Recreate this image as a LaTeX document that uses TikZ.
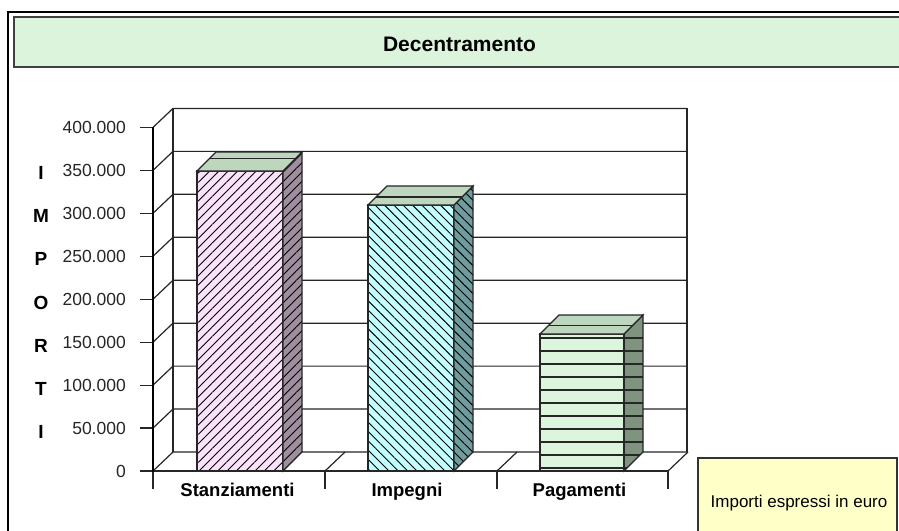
\documentclass[tikz,border=0pt]{standalone}
\usepackage{fontspec}
\setmainfont{Liberation Sans}
\usetikzlibrary{patterns.meta}
\definecolor{titlegreen}{HTML}{DCF4DC}
\definecolor{notebg}{HTML}{FFFFC8}
\definecolor{topgreen}{HTML}{BDD6BD}
\definecolor{sfront}{HTML}{FAE3FA}
\definecolor{sside}{HTML}{9E8E9E}
\definecolor{ifront}{HTML}{C4FFFF}
\definecolor{iside}{HTML}{6F9C9C}
\definecolor{pfront}{HTML}{DDF5DD}
\definecolor{pside}{HTML}{7E947E}
\newcommand\mybar[7]{%
  \path[fill=#4] (#1,471) rectangle (#2,#3);
  \path[pattern={#6}, pattern color=black] (#1,471) rectangle (#2,#3);
  \draw[barline] (#1,471) rectangle (#2,#3);
  \path[fill=#5] (#2,471) -- ({#2+19},452) -- ({#2+19},{#3-19}) -- (#2,#3) -- cycle;
  \path[pattern={#6}, pattern color=black] (#2,471) -- ({#2+19},452) -- ({#2+19},{#3-19}) -- (#2,#3) -- cycle;
  \draw[barline] (#2,471) -- ({#2+19},452) -- ({#2+19},{#3-19}) -- (#2,#3) -- cycle;
  \draw[barline, fill=topgreen] (#1,#3) -- ({#1+19},{#3-19}) -- ({#2+19},{#3-19}) -- (#2,#3) -- cycle;
  \draw[barline] ({#1+19*#7},{#3-19*#7}) -- ({#2+19*#7},{#3-19*#7});
}
\begin{document}
\begin{tikzpicture}[x=1pt,y=-1pt,
  grid/.style={draw=black!85, line width=1.2pt},
  barline/.style={draw=black!85, line width=1.1pt},
  hline/.style={draw=black!85, line width=1.5pt},
  ylab/.style={anchor=east, font=\fontsize{17.5}{19}\selectfont, text=black!85, inner sep=0pt},
  vlab/.style={font=\fontsize{19}{21}\selectfont\bfseries, inner sep=0pt},
  catlab/.style={anchor=base, font=\fontsize{18.5}{20}\selectfont\bfseries, inner sep=0pt}]
\useasboundingbox (0,0) rectangle (899,530);
\clip (0,0) rectangle (899,530);
\fill[white] (0,0) rectangle (899,530);
% outer frame
\draw[line width=1.8pt] (8,540) -- (8,12) -- (910,12);
% title box
\draw[draw=black!75, line width=1.5pt, fill=titlegreen] (14,17) rectangle (910,67);
\node[anchor=base, font=\fontsize{21}{23}\selectfont\bfseries, inner sep=0pt] (title) at (459.5,51) {Decentramento};
% back wall and left wall
\foreach \k in {0,...,8} {
  \pgfmathsetmacro\yy{471-42.95*\k}
  \draw[grid] (153,\yy) -- (173,{\yy-19}) -- (687,{\yy-19});
  \draw[grid] (140,\yy) -- (153,\yy);
}
\draw[grid] (173,{471-42.95*8-19}) -- (173,452);
\draw[grid] (687,{471-42.95*8-19}) -- (687,452);
% floor
\draw[grid] (153,471) -- (668,471);
\foreach \xx in {325,497,668} {
  \draw[grid] (\xx,471) -- ({\xx+20},452);
}
\foreach \xx in {153,325,497,668} {
  \draw[grid] (\xx,471) -- (\xx,489);
}
% front axis
\draw[line width=2.2pt] (153,{471-42.95*8}) -- (153,472);
% y labels
\node[ylab] (y0) at (126,471) {0};
\node[ylab] (y1) at (126,{471-42.95*1}) {50.000};
\node[ylab] (y2) at (126,{471-42.95*2}) {100.000};
\node[ylab] (y3) at (126,{471-42.95*3}) {150.000};
\node[ylab] (y4) at (126,{471-42.95*4}) {200.000};
\node[ylab] (y5) at (126,{471-42.95*5}) {250.000};
\node[ylab] (y6) at (126,{471-42.95*6}) {300.000};
\node[ylab] (y7) at (126,{471-42.95*7}) {350.000};
\node[ylab] (y8) at (126,{471-42.95*8}) {400.000};
% vertical axis title
\node[vlab] (v1) at (41,173) {I};
\node[vlab] (v2) at (41,216.2) {M};
\node[vlab] (v3) at (41,259.3) {P};
\node[vlab] (v4) at (41,302.5) {O};
\node[vlab] (v5) at (41,345.7) {R};
\node[vlab] (v6) at (41,388.8) {T};
\node[vlab] (v7) at (41,432) {I};
% bars
\mybar{197}{283}{171}{sfront}{sside}{Lines[angle=45,distance=6.6pt,line width=0.9pt]}{0.65}
\mybar{368}{454}{205}{ifront}{iside}{Lines[angle=-45,distance=6.6pt,line width=0.9pt]}{0.42}
% Pagamenti bar with horizontal stripes
\fill[pfront] (540,471) rectangle (624,334);
\fill[pside] (624,471) -- (643,452) -- (643,315) -- (624,334) -- cycle;
\begin{scope}
  \clip (540,471) -- (624,471) -- (643,452) -- (643,315) -- (624,334) -- (540,334) -- cycle;
  \foreach \i in {0,...,10} {
    \draw[hline] (540,{338+13*\i}) -- (643,{338+13*\i});
  }
\end{scope}
\draw[barline] (540,471) rectangle (624,334);
\draw[barline] (624,471) -- (643,452) -- (643,315) -- (624,334) -- cycle;
\draw[barline, fill=topgreen] (540,334) -- (559,315) -- (643,315) -- (624,334) -- cycle;
\draw[barline] ({540+19*0.45},{334-19*0.45}) -- ({624+19*0.45},{334-19*0.45});
% category labels
\node[catlab] (c1) at (237.5,496) {Stanziamenti};
\node[catlab] (c2) at (407,496) {Impegni};
\node[catlab] (c3) at (579.5,496) {Pagamenti};
% note box
\draw[draw=black!80, line width=1.2pt, fill=notebg] (698,458) rectangle (897,540);
\node[anchor=base, font=\fontsize{17}{19}\selectfont, inner sep=0pt] (note) at (799,507) {Importi espressi in euro};
\end{tikzpicture}
\end{document}
